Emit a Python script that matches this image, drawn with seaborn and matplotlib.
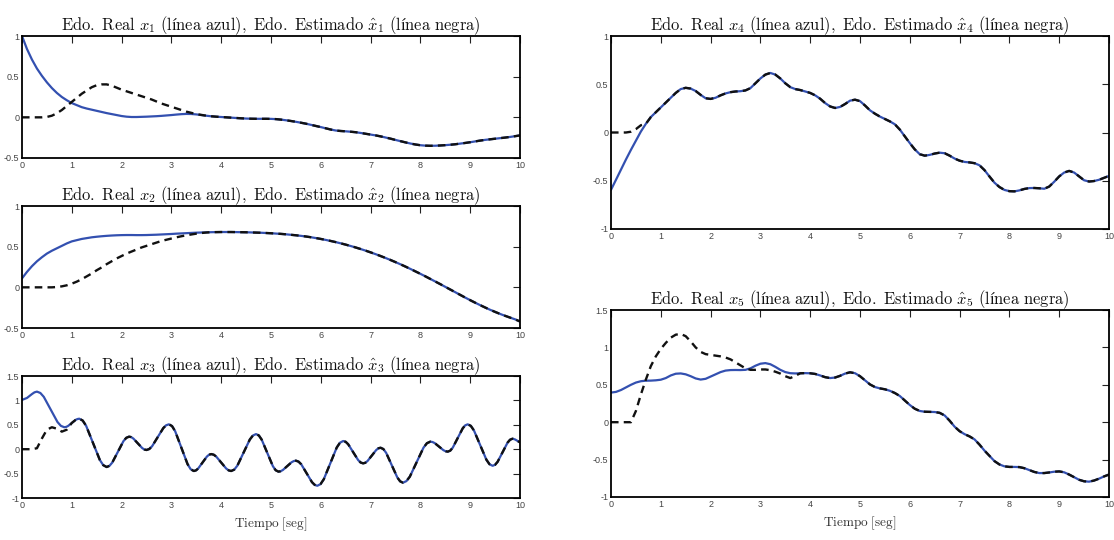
import numpy as np
import pandas as pd
import matplotlib
matplotlib.use("Agg")
import matplotlib.pyplot as plt
import seaborn as sns
from matplotlib import font_manager

# ---------------------------------------------------------------- data
# uniform time base for x1, x2, x4, x5 (seconds)
t_grid = [round(0.1 * k, 1) for k in range(101)]

x1_real = [1.00, 0.84, 0.71, 0.60, 0.51, 0.43, 0.36, 0.30, 0.25, 0.21, 0.175,
           0.150, 0.125, 0.108, 0.094, 0.080, 0.066, 0.052, 0.040, 0.028, 0.016,
           0.008, 0.004, 0.004, 0.006, 0.008, 0.011, 0.014, 0.018, 0.023, 0.028,
           0.034, 0.039, 0.042, 0.041, 0.036, 0.028, 0.020, 0.013, 0.008, 0.004,
           0.000, -0.004, -0.008, -0.012, -0.015, -0.017, -0.018, -0.018, -0.018, -0.019,
           -0.022, -0.028, -0.036, -0.045, -0.055, -0.066, -0.078, -0.092, -0.106, -0.120,
           -0.135, -0.150, -0.162, -0.168, -0.172, -0.177, -0.183, -0.192, -0.202, -0.212,
           -0.222, -0.234, -0.248, -0.262, -0.278, -0.293, -0.308, -0.322, -0.334, -0.343,
           -0.348, -0.350, -0.349, -0.346, -0.342, -0.337, -0.331, -0.323, -0.315, -0.306,
           -0.296, -0.286, -0.277, -0.270, -0.263, -0.256, -0.249, -0.241, -0.232, -0.222]
# observer output until it locks onto the true state
x1_est_transient = [0, 0, 0, 0, 0, 0.005, 0.02, 0.05, 0.09, 0.14, 0.19,
                    0.24, 0.29, 0.33, 0.37, 0.395, 0.405, 0.405, 0.39, 0.365, 0.34,
                    0.32, 0.30, 0.28, 0.26, 0.24, 0.22, 0.195, 0.17, 0.15, 0.13,
                    0.11, 0.09, 0.07, 0.055, 0.04, 0.03]

x2_real = [0.11, 0.19, 0.26, 0.32, 0.37, 0.415, 0.45, 0.48, 0.51, 0.54, 0.565,
           0.58, 0.595, 0.605, 0.615, 0.622, 0.628, 0.633, 0.637, 0.640, 0.642,
           0.643, 0.643, 0.642, 0.642, 0.643, 0.645, 0.647, 0.650, 0.653, 0.656,
           0.660, 0.663, 0.666, 0.669, 0.672, 0.674, 0.676, 0.678, 0.679, 0.680,
           0.680, 0.680, 0.679, 0.678, 0.677, 0.675, 0.673, 0.671, 0.668, 0.665,
           0.661, 0.657, 0.652, 0.646, 0.640, 0.633, 0.625, 0.616, 0.606, 0.595,
           0.583, 0.570, 0.556, 0.541, 0.525, 0.508, 0.490, 0.471, 0.451, 0.430,
           0.408, 0.385, 0.361, 0.336, 0.310, 0.283, 0.255, 0.226, 0.196, 0.166,
           0.135, 0.103, 0.071, 0.039, 0.006, -0.027, -0.060, -0.093, -0.126, -0.158,
           -0.189, -0.219, -0.248, -0.276, -0.302, -0.327, -0.350, -0.372, -0.393, -0.42]
x2_est_transient = [0, 0, 0, 0, 0, 0, 0, 0.004, 0.012, 0.025, 0.045,
                    0.07, 0.10, 0.135, 0.17, 0.21, 0.245, 0.285, 0.32, 0.355, 0.385,
                    0.415, 0.44, 0.465, 0.49, 0.51, 0.53, 0.55, 0.57, 0.585, 0.60,
                    0.615, 0.628, 0.64, 0.65, 0.66, 0.668, 0.674]

# x3 oscillates quickly, so it is sampled at its own (denser) instants
t3 = [0, 0.1, 0.2, 0.25, 0.3, 0.36875, 0.4375, 0.575, 0.7125, 0.78125, 0.85,
      0.8875, 0.925, 1.0, 1.075, 1.1125, 1.15,
      1.21875, 1.2875, 1.425, 1.5625, 1.63125, 1.7,
      1.75625, 1.8125, 1.925, 2.0375, 2.09375, 2.15,
      2.19375, 2.2375, 2.325, 2.4125, 2.45625, 2.5,
      2.55625, 2.6125, 2.725, 2.8375, 2.89375, 2.95,
      3.0125, 3.075, 3.2, 3.325, 3.3875, 3.45,
      3.49375, 3.5375, 3.625, 3.7125, 3.75625, 3.8,
      3.85, 3.9, 4.0, 4.1, 4.15, 4.2,
      4.2625, 4.325, 4.45, 4.575, 4.6375, 4.7,
      4.75625, 4.8125, 4.925, 5.0375, 5.09375, 5.15,
      5.19375, 5.2375, 5.325, 5.4125, 5.45625, 5.5,
      5.55375, 5.6075, 5.715, 5.8225, 5.87625, 5.93,
      5.995, 6.06, 6.19, 6.32, 6.385, 6.45,
      6.5, 6.55, 6.65, 6.75, 6.8, 6.85,
      6.89375, 6.9375, 7.025, 7.1125, 7.15625, 7.2,
      7.25625, 7.3125, 7.425, 7.5375, 7.59375, 7.65,
      7.71875, 7.7875, 7.925, 8.0625, 8.13125, 8.2,
      8.24375, 8.2875, 8.375, 8.4625, 8.50625, 8.55,
      8.6, 8.65, 8.75, 8.85, 8.9, 8.95,
      9.0125, 9.075, 9.2, 9.325, 9.3875, 9.45,
      9.5, 9.55, 9.65, 9.75, 9.8, 9.85,
      9.9, 10.0]
x3_real = [1.01, 1.05, 1.13, 1.165, 1.18, 1.152, 1.073, 0.815, 0.557, 0.478, 0.45,
           0.457, 0.476, 0.538, 0.599, 0.618, 0.625,
           0.587, 0.48, 0.13, -0.22, -0.327, -0.365,
           -0.341, -0.274, -0.054, 0.166, 0.233, 0.257,
           0.247, 0.217, 0.12, 0.024, -0.006, -0.016,
           0.004, 0.061, 0.247, 0.433, 0.490, 0.51,
           0.474, 0.37, 0.03, -0.307, -0.411, -0.447,
           -0.434, -0.396, -0.274, -0.151, -0.113, -0.10,
           -0.113, -0.151, -0.274, -0.396, -0.434, -0.447,
           -0.418, -0.336, -0.07, 0.199, 0.281, 0.31,
           0.281, 0.197, -0.075, -0.347, -0.431, -0.46,
           -0.451, -0.427, -0.348, -0.268, -0.244, -0.235,
           -0.255, -0.31, -0.493, -0.675, -0.730, -0.75,
           -0.715, -0.616, -0.291, 0.034, 0.133, 0.168,
           0.151, 0.101, -0.061, -0.223, -0.273, -0.29,
           -0.278, -0.243, -0.13, -0.017, 0.018, 0.03,
           0.003, -0.075, -0.328, -0.581, -0.659, -0.686,
           -0.654, -0.563, -0.266, 0.032, 0.123, 0.155,
           0.147, 0.125, 0.053, -0.02, -0.042, -0.05,
           -0.029, 0.032, 0.23, 0.428, 0.489, 0.51,
           0.478, 0.385, 0.085, -0.215, -0.308, -0.34,
           -0.319, -0.259, -0.063, 0.134, 0.194, 0.215,
           0.20, 0.14]
t3_est_transient = [0, 0.1, 0.2, 0.3, 0.4, 0.5, 0.6, 0.7, 0.8, 0.9]
x3_est_transient = [0, 0, 0, 0.02, 0.22, 0.40, 0.45, 0.42, 0.36, 0.40]

x4_real = [-0.594, -0.49, -0.385, -0.28, -0.18, -0.085, 0.01, 0.09, 0.16, 0.21, 0.26,
           0.31, 0.36, 0.41, 0.45, 0.463, 0.455, 0.43, 0.39, 0.355, 0.348,
           0.36, 0.385, 0.405, 0.418, 0.425, 0.428, 0.436, 0.46, 0.51, 0.56,
           0.60, 0.617, 0.60, 0.56, 0.51, 0.47, 0.45, 0.44, 0.425, 0.41,
           0.385, 0.35, 0.305, 0.27, 0.254, 0.265, 0.295, 0.33, 0.34, 0.325,
           0.28, 0.23, 0.195, 0.165, 0.14, 0.115, 0.085, 0.03, -0.04, -0.11,
           -0.175, -0.225, -0.24, -0.232, -0.218, -0.209, -0.215, -0.24, -0.27, -0.292,
           -0.305, -0.31, -0.318, -0.34, -0.39, -0.456, -0.52, -0.565, -0.595, -0.608,
           -0.61, -0.60, -0.585, -0.576, -0.575, -0.578, -0.583, -0.56, -0.51, -0.455,
           -0.415, -0.398, -0.415, -0.455, -0.495, -0.508, -0.503, -0.49, -0.47, -0.45]
x4_est_transient = [0, 0, 0, 0, 0.008, 0.035, 0.075]

x5_real = [0.396, 0.405, 0.43, 0.465, 0.50, 0.53, 0.548, 0.555, 0.556, 0.56, 0.568,
           0.59, 0.625, 0.648, 0.652, 0.64, 0.615, 0.585, 0.57, 0.58, 0.61,
           0.64, 0.67, 0.69, 0.697, 0.698, 0.697, 0.70, 0.72, 0.755, 0.782,
           0.79, 0.775, 0.74, 0.70, 0.67, 0.655, 0.652, 0.654, 0.656, 0.654,
           0.645, 0.625, 0.602, 0.59, 0.597, 0.62, 0.65, 0.667, 0.655, 0.615,
           0.56, 0.505, 0.47, 0.452, 0.44, 0.42, 0.39, 0.35, 0.29, 0.23,
           0.18, 0.15, 0.14, 0.138, 0.136, 0.125, 0.09, 0.02, -0.06, -0.12,
           -0.16, -0.19, -0.23, -0.30, -0.38, -0.45, -0.52, -0.565, -0.59, -0.598,
           -0.598, -0.60, -0.615, -0.64, -0.665, -0.68, -0.68, -0.672, -0.662, -0.658,
           -0.67, -0.70, -0.735, -0.77, -0.79, -0.795, -0.78, -0.755, -0.725, -0.70]
x5_est_transient = [0, 0, 0, 0, 0, 0.15, 0.37, 0.57, 0.75, 0.88, 0.98,
                    1.06, 1.13, 1.17, 1.18, 1.15, 1.08, 1.00, 0.94, 0.91, 0.90,
                    0.89, 0.88, 0.865, 0.84, 0.80, 0.76, 0.72, 0.70, 0.70, 0.705,
                    0.705, 0.695, 0.675, 0.65, 0.615, 0.59, 0.62]

x_ticks = list(range(0, 11))
y_ticks_a = [-0.5, 0, 0.5, 1]
y_ticks_b = [-1, -0.5, 0, 0.5, 1, 1.5]
y_ticks_c = [-1, -0.5, 0, 0.5, 1]


def tick_text(v):
    return f"{v:g}"


def estimate_on_grid(transient, real):
    """Observer output: transient part, then identical to the real state."""
    return list(transient) + list(real[len(transient):])


def panel_title(i):
    return (r"$\mathrm{Edo.\ Real}\ x_{%d}\ \mathrm{(línea\ azul),\ Edo.\ Estimado}"
            r"\ \hat{x}_{%d}\ \mathrm{(línea\ negra)}$" % (i, i))


# ---------------------------------------------------------------- style
sns.set_style("white")
plt.rcParams["mathtext.fontset"] = "cm"
plt.rcParams["axes.unicode_minus"] = False

installed = {f.name for f in font_manager.fontManager.ttflist}
tick_family = "Liberation Sans Narrow" if "Liberation Sans Narrow" in installed else "Liberation Sans"
plt.rcParams["font.family"] = [tick_family, "DejaVu Sans"]

BLUE = "#3350b0"
BLACK = "#111111"

fig = plt.figure(figsize=(11.14, 5.40), dpi=100)

W = 1114.0
H = 540.0


def make_axes(x0, y0, x1, y1):
    return fig.add_axes([x0 / W, 1 - y1 / H, (x1 - x0) / W, (y1 - y0) / H])


panels = [
    # (pixel box, time real, real, time est, est, ylim, yticks, index, xlabel)
    ((22, 36, 520, 158), t_grid, x1_real, t_grid, estimate_on_grid(x1_est_transient, x1_real),
     (-0.5, 1), y_ticks_a, 1, False),
    ((22, 206, 520, 328), t_grid, x2_real, t_grid, estimate_on_grid(x2_est_transient, x2_real),
     (-0.5, 1), y_ticks_a, 2, False),
    ((22, 376, 520, 498), t3, x3_real,
     t3_est_transient + [t for t in t3 if t >= 1.0],
     x3_est_transient + [v for t, v in zip(t3, x3_real) if t >= 1.0],
     (-1, 1.5), y_ticks_b, 3, True),
    ((611, 36, 1109, 229), t_grid, x4_real, t_grid, estimate_on_grid(x4_est_transient, x4_real),
     (-1, 1), y_ticks_c, 4, False),
    ((611, 310, 1109, 497), t_grid, x5_real, t_grid, estimate_on_grid(x5_est_transient, x5_real),
     (-1, 1.5), y_ticks_b, 5, True),
]

for box, tr, xr, te, xe, ylim, yt, idx, has_xlabel in panels:
    ax = make_axes(*box)
    df_r = pd.DataFrame({"t": tr, "x": xr})
    df_e = pd.DataFrame({"t": te, "x": xe})
    sns.lineplot(data=df_r, x="t", y="x", ax=ax, color=BLUE, linewidth=1.6,
                 estimator=None, sort=False)
    sns.lineplot(data=df_e, x="t", y="x", ax=ax, color=BLACK, linewidth=1.7,
                 linestyle=(0, (3.2, 2.2)), estimator=None, sort=False)
    ax.set_xlim(0, 10)
    ax.set_ylim(*ylim)
    ax.set_xticks(x_ticks)
    ax.set_xticklabels([tick_text(v) for v in x_ticks])
    ax.set_yticks(yt)
    ax.set_yticklabels([tick_text(v) for v in yt])
    ax.tick_params(direction="in", top=True, right=True, length=5, width=0.8,
                   labelsize=6.5, pad=2, colors="#222222", labelcolor="#444444")
    for sp in ax.spines.values():
        sp.set_visible(True)
        sp.set_color("#000000")
        sp.set_linewidth(1.3)
    ax.set_xlabel("")
    ax.set_ylabel("")
    ax.set_title(panel_title(idx), fontsize=11.9, pad=4, color="#111111")
    if has_xlabel:
        ax.set_xlabel(r"$\mathrm{Tiempo\ [seg]}$", fontsize=9.5,
                      labelpad=4, color="#333333")

fig.savefig("out.png", dpi=100)
